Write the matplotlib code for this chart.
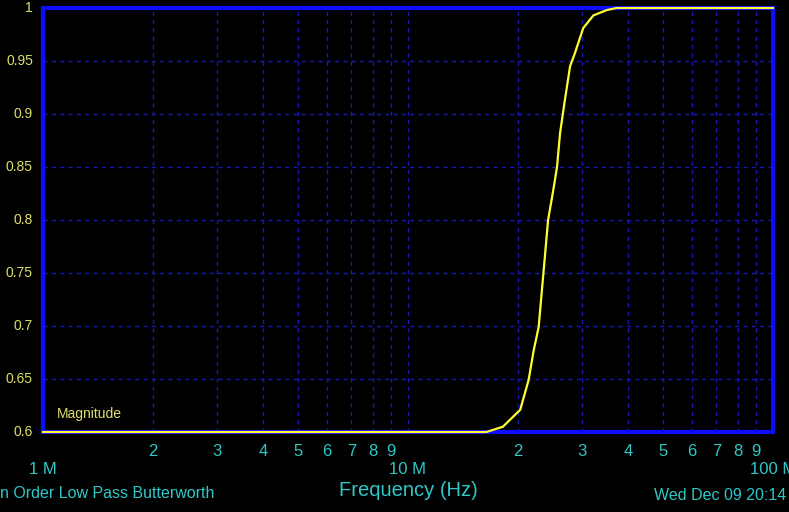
import matplotlib as mpl
mpl.use("Agg")
import matplotlib.pyplot as plt
from matplotlib.transforms import blended_transform_factory

# ---- data (frequency in MHz, magnitude) ----
freq_mhz = [1.0, 16.4, 18.2, 20.3, 21.4, 22.1, 22.8, 23.5, 24.2, 25.0, 25.6,
            26.1, 26.9, 27.8, 28.7, 30.2, 32.2, 35.0, 37.3, 100.0]
magnitude = [0.600, 0.600, 0.605, 0.621, 0.649, 0.677, 0.699, 0.750, 0.800, 0.828, 0.850,
             0.882, 0.913, 0.945, 0.958, 0.981, 0.993, 0.998, 1.000, 1.000]

y_ticks = [0.6, 0.65, 0.7, 0.75, 0.8, 0.85, 0.9, 0.95, 1.0]
y_labels = ["0.6", "0.65", "0.7", "0.75", "0.8", "0.85", "0.9", "0.95", "1"]
minor_digits = [2, 3, 4, 5, 6, 7, 8, 9]
decades = [1, 10, 100]
decade_labels = ["1 M", "10 M", "100 M"]

BLUE = "#0c0cff"
GRID = "#1818b8"
YEL = "#ffff30"
YLAB = "#dede6a"
CYAN = "#2ec8c8"
plt.rcParams["font.family"] = ["Liberation Sans", "DejaVu Sans"]

W, H = 789, 512
fig = plt.figure(figsize=(W / 100, H / 100), dpi=100, facecolor="black")
ax = fig.add_axes([43 / W, 1 - 432 / H, 730 / W, 424 / H], facecolor="black")
ax.set_xscale("log")
ax.set_xlim(1, 100)
ax.set_ylim(0.6, 1.0)

# dashed grid (minor decades + magnitude steps)
for d in decades[:-1]:
    for k in range(1, 10):
        f = d * k
        if 1 < f < 100:
            ax.axvline(f, color=GRID, lw=1.0, ls=(0, (3, 3)), zorder=1)
for yv in y_ticks[1:-1]:
    ax.axhline(yv, color=GRID, lw=1.0, ls=(0, (3, 3)), zorder=1)

for s in ax.spines.values():
    s.set_color(BLUE)
    s.set_linewidth(3)
ax.tick_params(length=0, labelbottom=False, labelleft=False)
ax.set_xticks([]); ax.set_yticks([])
ax.minorticks_off()

ax.plot(freq_mhz, magnitude, color=YEL, lw=1.6, zorder=5, clip_on=False)

# y labels
for yv, lab in zip(y_ticks, y_labels):
    ax.text(-10 / W * (1 / (730 / W)), yv, lab, transform=blended_transform_factory(ax.transAxes, ax.transData),
            ha="right", va="center", color=YLAB, fontsize=10)

# x labels
tr = blended_transform_factory(ax.transData, fig.transFigure)
for d in decades[:-1]:
    for k in minor_digits:
        ax.text(d * k, 1 - 452 / H, str(k), transform=tr, ha="center", va="center",
                color=CYAN, fontsize=12, clip_on=False)
for d, lab in zip(decades, decade_labels):
    ax.text(d, 1 - 470 / H, lab, transform=tr, ha="center", va="center",
            color=CYAN, fontsize=12, clip_on=False)

ax.text(57 / W, 1 - 414 / H, "Magnitude", transform=fig.transFigure, ha="left", va="center",
        color=YLAB, fontsize=10)
fig.text(408 / W, 1 - 491 / H, "Frequency (Hz)", ha="center", va="center", color=CYAN, fontsize=14.5)
fig.text(0 / W, 1 - 494 / H, "n Order Low Pass Butterworth", ha="left", va="center",
         color=CYAN, fontsize=11.5)
fig.text(654 / W, 1 - 496 / H, "Wed Dec 09 20:14", ha="left", va="center", color=CYAN, fontsize=11.5)

fig.savefig("out.png", dpi=100, facecolor="black")
